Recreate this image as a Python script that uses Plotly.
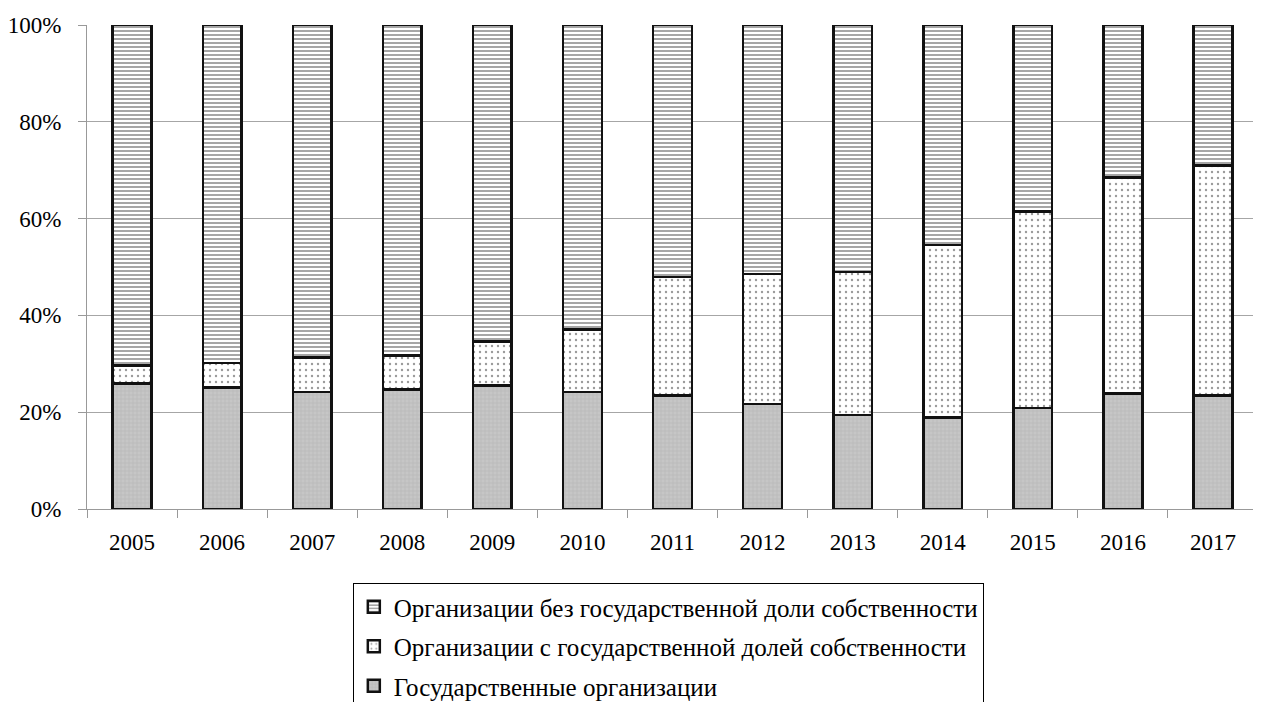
import plotly.graph_objects as go

years = ["2005", "2006", "2007", "2008", "2009", "2010", "2011",
         "2012", "2013", "2014", "2015", "2016", "2017"]
gov = [25.9, 25.1, 24.2, 24.7, 25.5, 24.2, 23.4, 21.7, 19.4, 18.9, 20.9, 23.9, 23.5]
mixed = [3.8, 5.1, 7.1, 7.0, 9.1, 12.9, 24.5, 26.9, 29.6, 35.6, 40.6, 44.6, 47.5]
private = [70.3, 69.8, 68.7, 68.3, 65.4, 62.9, 52.1, 51.4, 51.0, 45.5, 38.5, 31.5, 29.0]

names = ["Государственные организации",
         "Организации с государственной долей собственности",
         "Организации без государственной доли собственности"]

FONT = "Liberation Serif, Times New Roman, serif"

fig = go.Figure()
fig.add_trace(go.Bar(
    x=years, y=gov, name=names[0], legendgroup="c", legendrank=3,
    marker=dict(color="#c4c4c4", line=dict(color="#111111", width=2.5),
                pattern=dict(shape="+", fgcolor="#a9a9a9", bgcolor="#c6c6c6",
                             size=4, solidity=0.3)),
))
fig.add_trace(go.Bar(
    x=years, y=mixed, name=names[1], legendgroup="b", legendrank=2,
    marker=dict(color="white", line=dict(color="#111111", width=2.5),
                pattern=dict(shape=".", fgcolor="#333333", bgcolor="white",
                             size=6, solidity=0.12)),
))
fig.add_trace(go.Bar(
    x=years, y=private, name=names[2], legendgroup="a", legendrank=1,
    marker=dict(color="white", line=dict(color="#111111", width=2.5),
                pattern=dict(shape="-", fgcolor="#000000", bgcolor="white",
                             size=4, solidity=0.35)),
))

fig.update_layout(
    barmode="stack",
    bargap=0.57,
    width=1253, height=694,
    margin=dict(l=79, r=3, t=17, b=193, autoexpand=False),
    paper_bgcolor="white",
    plot_bgcolor="white",
    font=dict(family=FONT, size=23, color="black"),
    showlegend=True,
    legend=dict(
        x=0.227, y=-0.153, xanchor="left", yanchor="top",
        traceorder="grouped", tracegroupgap=4,
        bordercolor="black", borderwidth=1, bgcolor="white",
        font=dict(family=FONT, size=25, color="black"),
        itemwidth=30,
    ),
    xaxis=dict(
        showline=True, linecolor="#999999", linewidth=1,
        ticks="outside", tickson="boundaries", ticklen=8, tickcolor="#999999",
        showgrid=False, automargin=False, ticklabelstandoff=12,
    ),
    yaxis=dict(
        range=[0, 100], dtick=20, ticksuffix="%",
        showline=True, linecolor="#999999", linewidth=1,
        ticks="outside", ticklen=8, tickcolor="#999999",
        showgrid=True, gridcolor="#a6a6a6", gridwidth=1,
        zeroline=False, ticklabelstandoff=12, automargin=False,
    ),
)

fig.write_html("out.html")
